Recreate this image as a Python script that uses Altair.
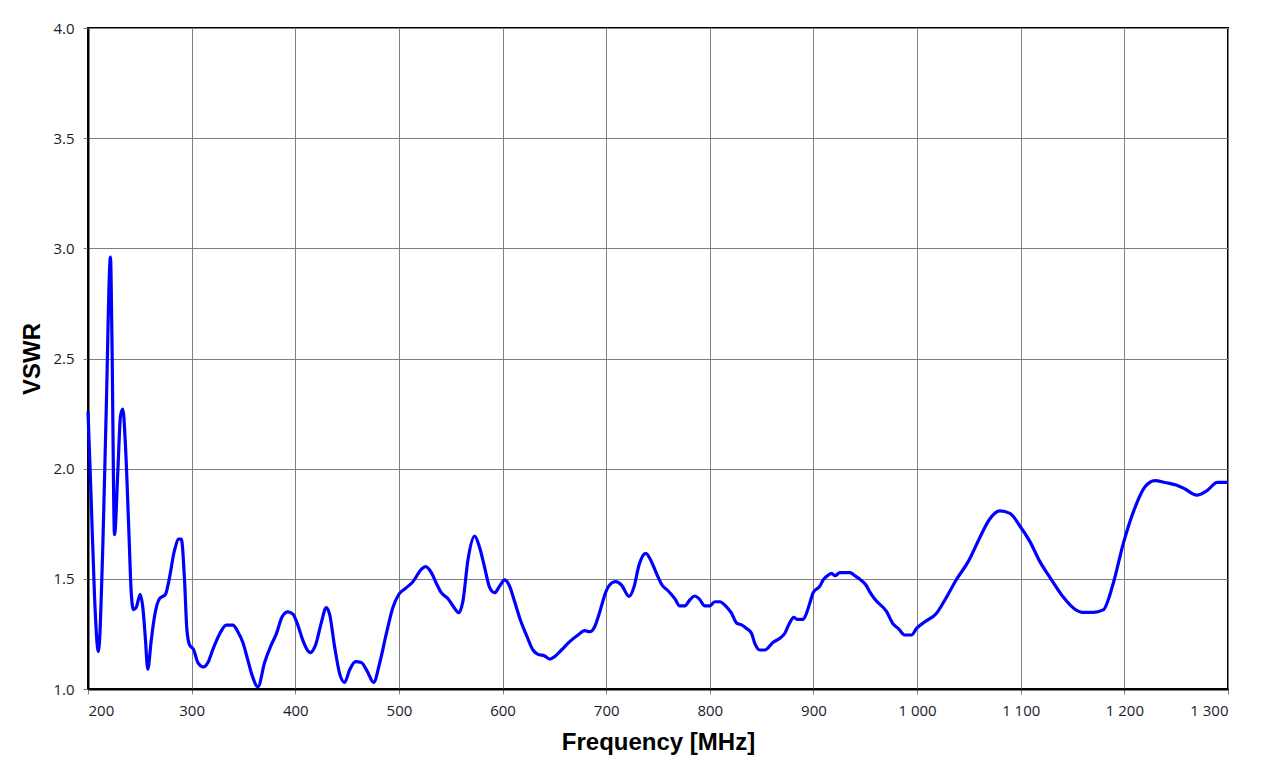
import altair as alt
import pandas as pd

freq = [200, 203, 206.3, 210, 214.3, 217.5, 221.7, 223, 225.6, 228.8, 231.4, 233.6, 236.2, 239.4,
        241.7, 243.9, 246.5, 250.4, 252.9, 255.2, 257.7, 261, 264.2, 269, 274.8, 278, 283.5, 287.7,
        290, 293.2, 295.4, 298, 301.8, 306, 311.5, 315.7, 320.5, 327, 333.4, 339.8, 344.6, 349.5,
        354.3, 358.5, 364, 370.4, 376.8, 381.7, 387.5, 392.9, 397.7, 402.5, 407.4, 414.5, 419.6,
        425.1, 429.9, 433.1, 438, 442.8, 447.6, 452.4, 458.2, 463.7, 469.5, 475.6, 481.4, 487.8,
        494.2, 500, 506.5, 513.5, 521.6, 525.8, 531.3, 536.1, 540.9, 547.4, 552.2, 557.7, 561.8,
        566.6, 573.1, 578, 582.8, 587.6, 592.4, 597.2, 602, 606.5, 611.7, 617.2, 623, 629.4, 634.2,
        640.7, 645.5, 650.3, 656.8, 664.8, 672.8, 679.3, 684.1, 688.9, 693.8, 699.6, 705, 709.2,
        714.7, 722.1, 726.9, 731.7, 738.2, 743.7, 748.5, 753.9, 759.7, 766.2, 771, 775.8, 780.7,
        785.5, 789.6, 795.2, 800, 804.8, 809.6, 816.1, 820.9, 825.7, 831, 835.4, 840.2, 843.4,
        848.2, 853.1, 861.1, 867.5, 872.4, 876.5, 881, 884.2, 890, 893.3, 896.5, 899.7, 906.2,
        909.4, 914.2, 917.5, 920.7, 925.5, 935.2, 940, 944.8, 950.6, 954.5, 959.3, 970.6, 976.9,
        981.8, 988.2, 994.7, 999.5, 1007.5, 1018.8, 1026.8, 1038.1, 1049.3, 1060.6, 1069.6, 1079.9,
        1089.6, 1099.2, 1108.9, 1118.5, 1128.8, 1139.5, 1159.7, 1170, 1179.6, 1189.3, 1199, 1209.3,
        1219.9, 1229.5, 1239.2, 1249.8, 1258.5, 1269.8, 1279.4, 1289.7, 1300]
vswr = [2.26, 1.87, 1.42, 1.17, 1.65, 2.25, 2.96, 2.63, 1.70, 1.99, 2.24, 2.27, 2.10, 1.72,
        1.44, 1.36, 1.37, 1.43, 1.37, 1.24, 1.09, 1.22, 1.33, 1.41, 1.43, 1.49, 1.63, 1.68,
        1.68, 1.49, 1.27, 1.20, 1.18, 1.12, 1.10, 1.12, 1.18, 1.25, 1.29, 1.29, 1.26, 1.21,
        1.13, 1.06, 1.01, 1.12, 1.20, 1.25, 1.33, 1.35, 1.34, 1.29, 1.22, 1.165, 1.20,
        1.30, 1.37, 1.34, 1.19, 1.07, 1.03, 1.086, 1.124, 1.12, 1.08, 1.03, 1.117, 1.25,
        1.37, 1.43, 1.457, 1.487, 1.543, 1.555, 1.528, 1.48, 1.437, 1.41, 1.377, 1.346, 1.40,
        1.585, 1.694, 1.64, 1.55, 1.46, 1.437, 1.467, 1.495, 1.47, 1.396, 1.313, 1.245, 1.177, 1.157,
        1.15, 1.136, 1.147, 1.177, 1.215, 1.245, 1.265, 1.26, 1.283, 1.35, 1.44, 1.48, 1.487,
        1.472, 1.42, 1.464, 1.563, 1.616, 1.578, 1.525, 1.472, 1.446, 1.41, 1.377, 1.377, 1.404,
        1.422, 1.41, 1.377, 1.377, 1.396, 1.396, 1.373, 1.344, 1.30, 1.29, 1.275, 1.253, 1.207,
        1.177, 1.177, 1.212, 1.23, 1.253, 1.295, 1.325, 1.316, 1.316, 1.344, 1.39, 1.437, 1.467,
        1.495, 1.517, 1.525, 1.514, 1.528, 1.528, 1.514, 1.498, 1.472, 1.44, 1.407, 1.351, 1.295,
        1.275, 1.245, 1.245, 1.275, 1.305, 1.344, 1.404, 1.498, 1.578, 1.688, 1.768, 1.808,
        1.797, 1.74, 1.669, 1.578, 1.502, 1.427, 1.348, 1.348, 1.359, 1.48, 1.661, 1.812,
        1.918, 1.946, 1.937, 1.926, 1.908, 1.88, 1.899, 1.938, 1.938]

x_ticks = [200, 300, 400, 500, 600, 700, 800, 900, 1000, 1100, 1200, 1300]
y_ticks = [1.0, 1.5, 2.0, 2.5, 3.0, 3.5, 4.0]

df = pd.DataFrame({"freq": freq, "vswr": vswr})

chart = alt.Chart(df).mark_line(color="#0000FF", strokeWidth=3.2, interpolate="monotone").encode(
    x=alt.X("freq:Q", scale=alt.Scale(domain=[200, 1300], nice=False),
            axis=alt.Axis(values=x_ticks, title="Frequency [MHz]",
                          labelExpr="replace(format(datum.value, ','), ',', ' ')")),
    y=alt.Y("vswr:Q", scale=alt.Scale(domain=[1, 4], nice=False, zero=False),
            axis=alt.Axis(values=y_ticks, format=".1f", title="VSWR")),
).properties(
    width=1140, height=661,
    autosize=alt.AutoSizeParams(type="none"),
    padding={"left": 80, "top": 20, "right": 26, "bottom": 70},
).configure_view(
    stroke="#000000", strokeWidth=2
).configure_axis(
    grid=True, gridColor="#808080", gridWidth=1,
    domainColor="#000000", domainWidth=2,
    tickColor="#808080", tickSize=5, tickWidth=1,
    labelFont="Open Sans", labelFontSize=15, labelColor="#1a1a2a",
    titleFont="Liberation Sans", titleFontSize=24, titleFontWeight="bold", titleColor="#000000",
).configure_axisX(
    labelPadding=9, titlePadding=12,
).configure_axisY(
    labelPadding=9, titlePadding=8,
)

chart.save("out.html", embed_options={"renderer": "svg", "actions": False})
